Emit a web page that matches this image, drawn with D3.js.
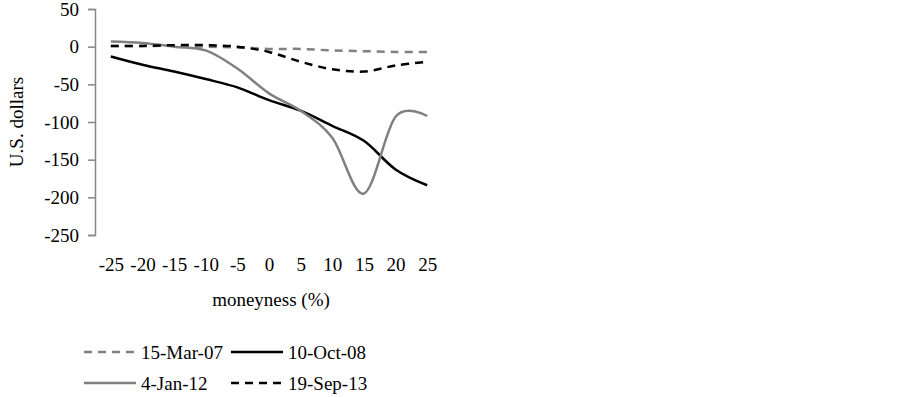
<!DOCTYPE html>
<html>
<head>
<meta charset="utf-8">
<script src="https://cdn.jsdelivr.net/npm/d3@7"></script>
<style>
  body { margin: 0; background: #fff; }
  text { font-family: "Liberation Serif", serif; font-size: 19px; fill: #000; }
</style>
</head>
<body>
<svg id="chart"></svg>
<script>
// moneyness categories (%)
const moneyness = [-25, -20, -15, -10, -5, 0, 5, 10, 15, 20, 25];
const yTicks = [50, 0, -50, -100, -150, -200, -250];

// series values (U.S. dollars)
const mar07 = [1, 1, 1, 0, -1, -3, -3, -5, -6, -7, -7];
const oct08 = [-13, -24, -33, -43, -54, -71, -85, -105, -125, -163, -184];
const jan12 = [7, 5, 0, -5, -29, -62, -85, -121, -195, -93, -92];
const sep13 = [1, 1, 2, 2, 0, -7, -20, -30, -33, -25, -20];

const series = [
    { name: "15-Mar-07", values: mar07, color: "#808080", dash: "8,6" },
    { name: "10-Oct-08", values: oct08, color: "#000000", dash: null },
    { name: "4-Jan-12", values: jan12, color: "#808080", dash: null },
    { name: "19-Sep-13", values: sep13, color: "#000000", dash: "8,6" }
];

const W = 903, H = 397;
const svg = d3.select("#chart").attr("width", W).attr("height", H);

const x = d3.scalePoint()
    .domain(moneyness)
    .range([95, 443])
    .padding(0.5);

const y = d3.scaleLinear()
    .domain([-250, 50])
    .range([235, 9]);

// plain hyphen for negatives, like the original
const fmt = d => String(d);

// y axis
const yAxis = svg.append("g")
    .attr("transform", "translate(95,0)")
    .call(d3.axisLeft(y).tickValues(yTicks).tickFormat(fmt).tickSize(7).tickPadding(9));
yAxis.select(".domain").attr("stroke", "#868686").attr("stroke-width", 1.5);
yAxis.selectAll(".tick line").attr("stroke", "#868686").attr("stroke-width", 1.5);
yAxis.selectAll("text").style("font-family", "Liberation Serif").style("font-size", "19px").attr("fill", "#000");

// x axis labels (no line)
const xAxis = svg.append("g")
    .attr("transform", "translate(0,235)")
    .call(d3.axisBottom(x).tickFormat(fmt).tickSize(0).tickPadding(23));
xAxis.select(".domain").remove();
xAxis.selectAll("text").style("font-family", "Liberation Serif").style("font-size", "19px").attr("fill", "#000");

// axis titles
svg.append("text")
    .attr("transform", "translate(23,122) rotate(-90)")
    .attr("text-anchor", "middle")
    .text("U.S. dollars");

svg.append("text")
    .attr("x", 271)
    .attr("y", 306)
    .attr("text-anchor", "middle")
    .text("moneyness (%)");

// lines
const line = d3.line()
    .x((d, i) => x(moneyness[i]))
    .y(d => y(d))
    .curve(d3.curveCatmullRom.alpha(0));

series.forEach(s => {
    svg.append("path")
        .datum(s.values)
        .attr("fill", "none")
        .attr("stroke", s.color)
        .attr("stroke-width", 2.5)
        .attr("stroke-dasharray", s.dash)
        .attr("d", line);
});

// legend
const legendPos = [
    { x: 84, y: 352 }, { x: 231, y: 352 },
    { x: 84, y: 383 }, { x: 231, y: 383 }
];
series.forEach((s, i) => {
    const p = legendPos[i];
    svg.append("line")
        .attr("x1", p.x).attr("x2", p.x + 52)
        .attr("y1", p.y).attr("y2", p.y)
        .attr("stroke", s.color)
        .attr("stroke-width", 2.5)
        .attr("stroke-dasharray", s.dash);
    svg.append("text")
        .attr("x", p.x + 57)
        .attr("y", p.y)
        .attr("dy", "0.35em")
        .text(s.name);
});
</script>
</body>
</html>
